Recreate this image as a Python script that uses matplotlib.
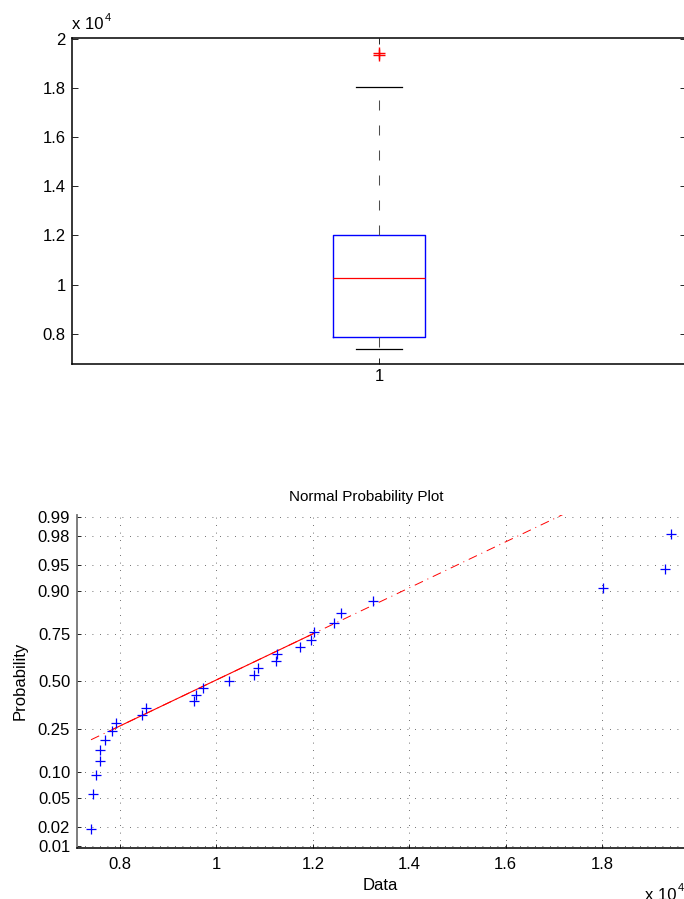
import matplotlib
matplotlib.use('Agg')
import matplotlib.pyplot as plt
import numpy as np
from statistics import NormalDist
from matplotlib.ticker import FuncFormatter, FixedLocator

# ---------------- data ----------------
data = [7398, 7434, 7496, 7580, 7590, 7689, 7840, 7917, 8463, 8540,
        9542, 9571, 9728, 10256, 10781, 10870, 11240, 11260, 11735,
        11963, 12032, 12447, 12586, 13244, 18028, 19315, 19433]
box_labels = ['1']
top_yticks = [8000, 10000, 12000, 14000, 16000, 18000, 20000]
bottom_xticks = [8000, 10000, 12000, 14000, 16000, 18000]
prob_ticks = [0.01, 0.02, 0.05, 0.10, 0.25, 0.50, 0.75, 0.90, 0.95, 0.98, 0.99]
prob_labels = ['0.01', '0.02', '0.05', '0.10', '0.25', '0.50', '0.75',
               '0.90', '0.95', '0.98', '0.99']
title_text = 'Normal Probability Plot'
xlabel_text = 'Data'
ylabel_text = 'Probability'

plt.rcParams['font.family'] = ['Liberation Sans', 'DejaVu Sans']
plt.rcParams['font.size'] = 12

W, H = 684, 899
fig = plt.figure(figsize=(W / 100, H / 100), dpi=100)


def fx(px):
    return px / W


def fy(py):
    return 1 - py / H


def prctile(x, p):
    xs = np.sort(np.asarray(x, dtype=float))
    n = len(xs)
    pos = n * p / 100.0 + 0.5
    if pos <= 1:
        return xs[0]
    if pos >= n:
        return xs[-1]
    lo = int(np.floor(pos))
    frac = pos - lo
    return xs[lo - 1] + frac * (xs[lo] - xs[lo - 1])


arr = np.sort(np.asarray(data, dtype=float))
n = len(arr)
sci = FuncFormatter(lambda v, pos: f'{v / 1e4:g}')

# ---------------- top: boxplot ----------------
ax1 = fig.add_axes([fx(72), fy(363.5), fx(686) - fx(72), fy(37.7) - fy(363.5)])
q1 = prctile(arr, 25)
med = prctile(arr, 50)
q3 = prctile(arr, 75)
iqr = q3 - q1
inside = arr[(arr >= q1 - 1.5 * iqr) & (arr <= q3 + 1.5 * iqr)]
stats = [dict(med=med, q1=q1, q3=q3, whislo=inside.min(), whishi=inside.max(),
              fliers=arr[(arr < q1 - 1.5 * iqr) | (arr > q3 + 1.5 * iqr)],
              label=box_labels[0])]
ax1.bxp(stats, positions=[1], widths=0.15, showfliers=True,
        boxprops=dict(color='#0000ff', lw=1.0),
        medianprops=dict(color='#ff0000', lw=0.9),
        whiskerprops=dict(color='0.3', lw=0.75, linestyle=(0, (9.6, 14.4))),
        capprops=dict(color='black', lw=0.9),
        flierprops=dict(marker='+', markeredgecolor='#ff0000', markersize=8,
                        markeredgewidth=1.0, linestyle='none'))
rng = arr.max() - arr.min()
ax1.set_xlim(0.5, 1.5)
ax1.set_ylim(arr.min() - 0.05 * rng, arr.max() + 0.05 * rng)
ax1.yaxis.set_major_locator(FixedLocator(top_yticks))
ax1.yaxis.set_major_formatter(sci)
ax1.set_xticks([1])
ax1.set_xticklabels(box_labels)
ax1.tick_params(direction='in', length=4, width=0.6, top=True, right=True,
                labelsize=12, pad=4.5)
ax1.tick_params(axis='x', pad=4)
for s in ax1.spines.values():
    s.set_linewidth(1.1)
fig.text(fx(72), fy(29.3), 'x 10', fontsize=12, ha='left', va='baseline')
fig.text(fx(104.5), fy(20.7), '4', fontsize=8, ha='left', va='baseline')

# ---------------- bottom: normal probability plot ----------------
ax2 = fig.add_axes([fx(76.5), fy(847.7), fx(685.6) - fx(76.5), fy(515) - fy(847.7)])
nd = NormalDist()
z = np.array([nd.inv_cdf((i - 0.5) / n) for i in range(1, n + 1)])
ax2.plot(arr, z, linestyle='none', marker='+', color='#0000ff',
         markersize=7.5, markeredgewidth=0.9, zorder=4)

q1x, q3x = prctile(arr, 25), prctile(arr, 75)
q1y, q3y = prctile(z, 25), prctile(z, 75)
slope = (q3y - q1y) / (q3x - q1x)
cx, cy = (q1x + q3x) / 2, (q1y + q3y) / 2
minx, maxx = arr.min(), arr.max()
ax2.plot([minx, maxx], [cy - slope * (cx - minx), cy + slope * (maxx - cx)],
         color='#ff0000', lw=0.7, linestyle=(0, (9.3, 5.1, 1.0, 5.1)), zorder=3)
ax2.plot([q1x, q3x], [q1y, q3y], color='#ff0000', lw=0.8, zorder=3)

ax2.set_xlim(minx - 0.025 * rng, maxx + 0.025 * rng)
ax2.set_ylim(-2.35, 2.35)
ax2.set_yticks([nd.inv_cdf(p) for p in prob_ticks])
ax2.set_yticklabels(prob_labels)
ax2.xaxis.set_major_locator(FixedLocator(bottom_xticks))
ax2.xaxis.set_major_formatter(sci)
ax2.grid(True, color='0.25', linestyle=(0, (1, 8)), linewidth=0.6)
ax2.spines['top'].set_visible(False)
ax2.spines['right'].set_visible(False)
ax2.spines['left'].set_color('0.45')
ax2.spines['left'].set_linewidth(1.3)
ax2.spines['bottom'].set_linewidth(1.1)
ax2.tick_params(direction='in', length=3.2, width=0.6, labelsize=12, pad=4.5)
ax2.tick_params(axis='x', pad=7)

fig.text(fx(366), fy(501), title_text, fontsize=11, ha='center', va='baseline')
fig.text(fx(380.5), fy(889.6), xlabel_text, fontsize=12, ha='center', va='baseline')
fig.text(fx(20), fy(681), ylabel_text, fontsize=12, ha='center', va='center',
         rotation=90)
fig.text(fx(645), fy(900), 'x 10', fontsize=12, ha='left', va='baseline')
fig.text(fx(678), fy(891), '4', fontsize=8, ha='left', va='baseline')

fig.savefig('out.png', dpi=100)
